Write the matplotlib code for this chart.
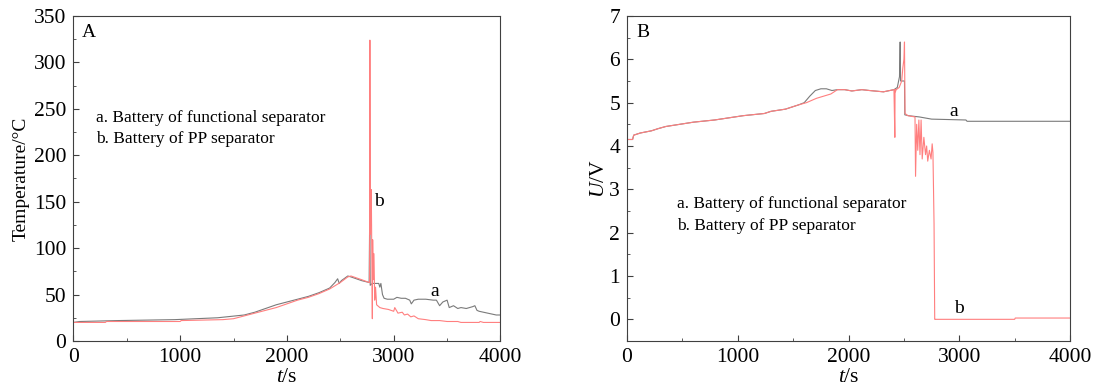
import matplotlib.pyplot as plt

plt.rcParams['font.family'] = 'Liberation Serif'
plt.rcParams['mathtext.fontset'] = 'custom'
plt.rcParams['mathtext.rm'] = 'Liberation Serif'
plt.rcParams['mathtext.it'] = 'Liberation Serif:italic'

# A: temperature, battery a (functional separator)
t_temp_a = [0, 60, 420, 950, 1350, 1600, 1700, 1800, 1900, 2000,
            2100, 2200, 2300, 2400, 2450, 2475, 2490, 2510, 2570, 2600,
            2650, 2700, 2770, 2776, 2780, 2800, 2860, 2870, 2880, 2895,
            2910, 2940, 3000, 3030, 3070, 3110, 3150, 3165, 3190, 3230,
            3300, 3370, 3400, 3430, 3460, 3500, 3520, 3560, 3600, 3630,
            3680, 3740, 3760, 3780, 3800, 3840, 3880, 3920, 3960, 4000]
temp_a = [20, 21, 22, 23, 25, 28, 31, 35, 39, 42,
          45, 48, 52, 57, 63, 67, 62, 65, 70, 69,
          67, 65, 63, 145, 60, 62, 62, 58, 62, 50,
          46, 45, 45, 47, 46, 46, 44, 40, 44, 45,
          45, 44, 44, 38, 42, 44, 36, 38, 35, 36,
          35, 37, 38, 33, 32, 31, 30, 29, 28, 28]

# A: temperature, battery b (PP separator)
t_temp_b = [0, 300, 310, 1000, 1010, 1400, 1500, 1600, 1700, 1800,
            1900, 2000, 2100, 2200, 2300, 2400, 2500, 2570, 2600, 2650,
            2700, 2770, 2774, 2777, 2781, 2785, 2790, 2800, 2803, 2808,
            2815, 2822, 2830, 2840, 2850, 2870, 2900, 2950, 3000, 3010,
            3040, 3080, 3100, 3130, 3160, 3190, 3230, 3300, 3350, 3430,
            3500, 3600, 3630, 3800, 3810, 3840, 4000]
temp_b = [20, 20, 21, 21, 22, 23, 24, 27, 30, 33,
          36, 40, 44, 47, 51, 56, 63, 69, 70, 68,
          66, 63, 63, 324, 115, 145, 163, 24, 109, 66,
          94, 44, 58, 39, 38, 36, 35, 34, 32, 36,
          30, 31, 28, 29, 26, 27, 24, 23, 22, 22,
          21, 21, 20, 20, 21, 20, 20]

# B: voltage, battery a
t_volt_a = [0, 50, 60, 120, 220, 280, 350, 475, 600, 790,
            920, 1050, 1240, 1300, 1430, 1490, 1550, 1600, 1650, 1700,
            1750, 1800, 1850, 1900, 1965, 2030, 2120, 2190, 2315, 2410,
            2440, 2460, 2466, 2470, 2505, 2508, 2540, 2640, 2750, 3060,
            3070, 4000]
volt_a = [4.15, 4.15, 4.25, 4.3, 4.35, 4.4, 4.45, 4.5, 4.55, 4.6,
          4.65, 4.7, 4.75, 4.8, 4.85, 4.9, 4.95, 5.0, 5.15, 5.28,
          5.32, 5.32, 5.28, 5.3, 5.3, 5.27, 5.3, 5.28, 5.25, 5.3,
          5.35, 5.6, 6.4, 5.5, 5.5, 4.72, 4.7, 4.67, 4.62, 4.6,
          4.57, 4.57]

# B: voltage, battery b
t_volt_b = [0, 50, 60, 120, 220, 280, 350, 475, 600, 790,
            920, 1050, 1240, 1300, 1430, 1490, 1550, 1620, 1710, 1775,
            1840, 1900, 1965, 2030, 2120, 2190, 2315, 2410, 2418, 2420,
            2423, 2430, 2457, 2480, 2490, 2500, 2505, 2510, 2535, 2600,
            2605, 2615, 2625, 2635, 2645, 2655, 2665, 2680, 2695, 2705,
            2715, 2730, 2745, 2755, 2762, 2772, 2778, 2785, 3500, 3505,
            4000]
volt_b = [4.15, 4.15, 4.25, 4.3, 4.35, 4.4, 4.45, 4.5, 4.55, 4.6,
          4.65, 4.7, 4.75, 4.8, 4.85, 4.9, 4.95, 5.0, 5.1, 5.15,
          5.2, 5.3, 5.3, 5.27, 5.3, 5.28, 5.25, 5.3, 4.2, 5.3,
          5.25, 5.3, 5.35, 5.5, 5.8, 6.0, 6.4, 4.75, 4.7, 4.67,
          3.3, 4.5, 3.9, 4.6, 3.8, 4.6, 3.7, 4.2, 3.8, 4.0,
          3.65, 3.9, 3.7, 4.05, 3.85, 2.2, 0.0, 0.0, 0.0, 0.03,
          0.03]

gray = '#7a7a7a'
red = '#ff7f7f'
legend_a = "a. Battery of functional separator"
legend_b = "b. Battery of PP separator"

fig = plt.figure(figsize=(10.93, 3.89), dpi=100)
ax1 = fig.add_axes([0.0671, 0.1234, 0.3908, 0.8355])
ax2 = fig.add_axes([0.5737, 0.1234, 0.4053, 0.8355])


def style(ax):
    for s in ax.spines.values():
        s.set_color('#404040')
        s.set_linewidth(0.8)
    ax.tick_params(which='both', direction='in', top=False, right=False,
                   colors='#404040', labelcolor='black', labelsize=15.5, pad=5)
    ax.tick_params(which='major', length=4)
    ax.tick_params(which='minor', length=2.5)
    ax.set_xlim(0, 4000)
    ax.set_xticks([0, 1000, 2000, 3000, 4000])
    ax.set_xticks([500, 1500, 2500, 3500], minor=True)
    ax.set_xlabel(r'$\mathit{t}$/s', fontsize=15.5, labelpad=1)


# panel A
ax1.plot(t_temp_a, temp_a, color=gray, lw=0.8)
ax1.plot(t_temp_b, temp_b, color=red, lw=0.8)
style(ax1)
ax1.set_ylim(0, 350)
ax1.set_yticks(range(0, 351, 50))
ax1.set_yticks(range(25, 350, 50), minor=True)
ax1.set_ylabel('Temperature/°C', fontsize=14, labelpad=3)
ax1.text(0.021, 0.975, 'A', transform=ax1.transAxes, fontsize=14, va='top')
ax1.text(0.052, 0.685, legend_a, transform=ax1.transAxes, fontsize=12.5, va='center')
ax1.text(0.052, 0.62, legend_b, transform=ax1.transAxes, fontsize=12.5, va='center')
ax1.text(3383, 53, 'a', fontsize=14, ha='center', va='center')
ax1.text(2863, 150, 'b', fontsize=14, ha='center', va='center')

# panel B
ax2.plot(t_volt_a, volt_a, color=gray, lw=0.8)
ax2.plot(t_volt_b, volt_b, color=red, lw=0.8)
style(ax2)
ax2.set_ylim(-0.5, 7)
ax2.set_yticks(range(0, 8))
ax2.set_yticks([x + 0.5 for x in range(-1, 7)], minor=True)
ax2.set_ylabel(r'$\mathit{U}$/V', fontsize=15.5, labelpad=0)
ax2.text(0.022, 0.975, 'B', transform=ax2.transAxes, fontsize=14, va='top')
ax2.text(0.1125, 0.4215, legend_a, transform=ax2.transAxes, fontsize=12.5, va='center')
ax2.text(0.1125, 0.355, legend_b, transform=ax2.transAxes, fontsize=12.5, va='center')
ax2.text(2950, 4.79, 'a', fontsize=14, ha='center', va='center')
ax2.text(3000, 0.25, 'b', fontsize=14, ha='center', va='center')

fig.savefig('out.png', dpi=100)
